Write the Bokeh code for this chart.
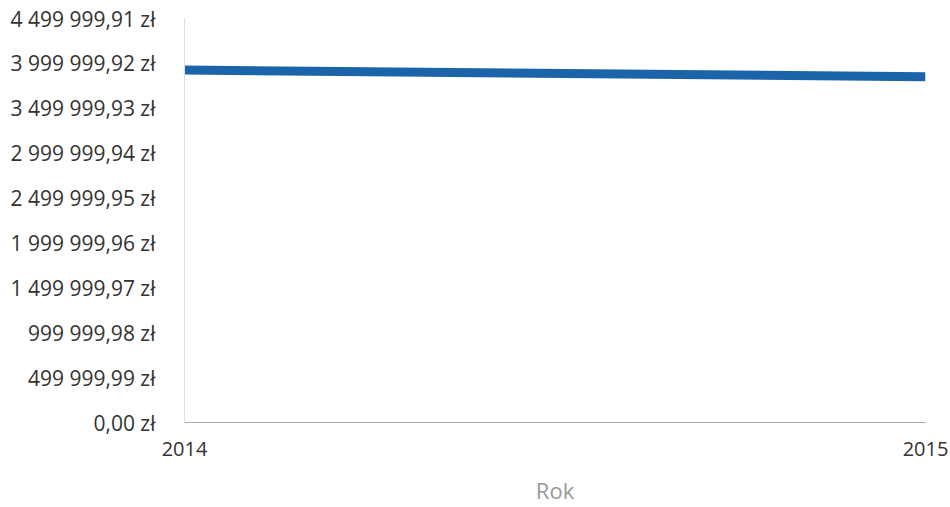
from bokeh.plotting import figure
from bokeh.models import FixedTicker, CustomJSTickFormatter, Range1d, ColumnDataSource
from bokeh.embed import file_html
from bokeh.resources import INLINE

years = [2014, 2015]
values = [3926000, 3851000]
y_ticks = [0, 499999.99, 999999.98, 1499999.97, 1999999.96, 2499999.95,
           2999999.94, 3499999.93, 3999999.92, 4499999.91]
x_ticks = [2014, 2015]

src = ColumnDataSource(data=dict(x=years, y=values))

p = figure(width=950, height=507, output_backend="svg", toolbar_location=None,
           x_range=Range1d(x_ticks[0], x_ticks[-1]),
           y_range=Range1d(y_ticks[0], y_ticks[-1]),
           min_border_left=184, min_border_top=18, min_border_right=25,
           min_border_bottom=85)
p.outline_line_color = None
p.grid.visible = False

p.line("x", "y", source=src, line_color="#1b64aa", line_width=9)

p.xaxis.ticker = FixedTicker(ticks=x_ticks)
p.xaxis.formatter = CustomJSTickFormatter(code="return tick.toFixed(0);")
p.yaxis.ticker = FixedTicker(ticks=y_ticks)
p.yaxis.formatter = CustomJSTickFormatter(code="""
const s = Math.abs(tick).toFixed(2);
const parts = s.split('.');
const g = parts[0].replace(/\\B(?=(\\d{3})+(?!\\d))/g, ' ');
return g + ',' + parts[1] + ' zł';
""")

for ax in (p.xaxis[0], p.yaxis[0]):
    ax.major_tick_line_color = None
    ax.minor_tick_line_color = None
    ax.major_label_text_font = "Open Sans"
    ax.major_label_text_color = "#333333"

p.xaxis.major_label_text_font_size = "20px"
p.yaxis.major_label_text_font_size = "21px"
p.yaxis.axis_line_color = "#cfe3e8"
p.yaxis.major_label_standoff = 23
p.xaxis.axis_line_color = "#a8a8b0"
p.xaxis.major_label_standoff = 13
p.xaxis.axis_label = "Rok"
p.xaxis.axis_label_text_font = "Open Sans"
p.xaxis.axis_label_text_font_style = "normal"
p.xaxis.axis_label_text_font_size = "22px"
p.xaxis.axis_label_text_color = "#999999"
p.xaxis.axis_label_standoff = 16

open("out.html", "w").write(file_html(p, INLINE))
